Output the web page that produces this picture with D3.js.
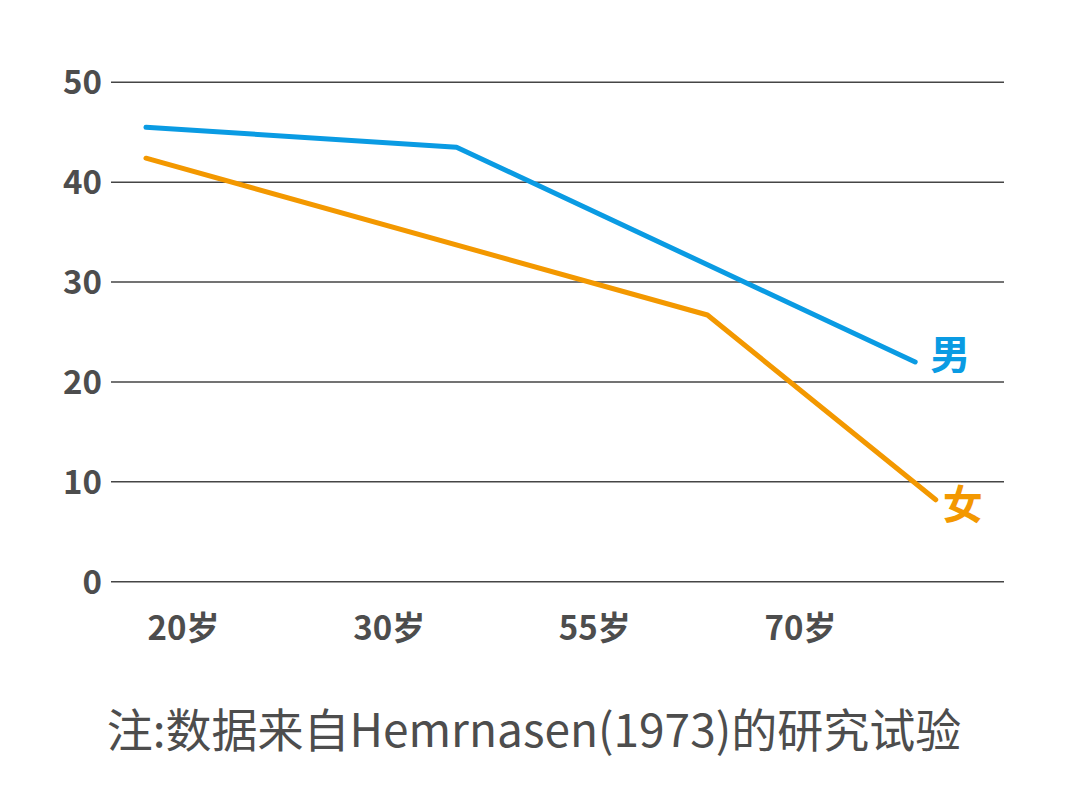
<!DOCTYPE html>
<html>
<head>
<meta charset="utf-8">
<script src="https://cdn.jsdelivr.net/npm/d3@7"></script>
<style>
  html, body { margin: 0; padding: 0; background: #fff; }
  svg { display: block; }
</style>
</head>
<body>
<svg id="chart" width="1066" height="800"></svg>
<script>
// ---- data ----
const categories = ["20岁", "30岁", "55岁", "70岁"];
const yTicks = [0, 10, 20, 30, 40, 50];
// positions along the category axis (category index units) and values
const maleX = [-0.18, 1.33, 3.56];
const maleY = [45.5, 43.5, 22];
const femaleX = [-0.18, 2.55, 3.66];
const femaleY = [42.4, 26.7, 8.2];
const seriesNames = ["男", "女"];
const note = "注:数据来自Hemrnasen(1973)的研究试验";

// ---- layout ----
const svg = d3.select("#chart");
const gridLeft = 111, gridRight = 1004;
const x = d3.scaleLinear().domain([0, categories.length - 1]).range([183, 800]);
const y = d3.scaleLinear().domain([0, 50]).range([581.7, 82.3]);
const font = "'Noto Sans CJK SC', 'Noto Sans', sans-serif";
const textColor = "#4d4d4d";
const blue = "#0a9be3";
const orange = "#f39800";

// gridlines
svg.append("g").selectAll("line").data(yTicks).join("line")
  .attr("x1", gridLeft).attr("x2", gridRight)
  .attr("y1", d => y(d)).attr("y2", d => y(d))
  .attr("stroke", "#454545").attr("stroke-width", 1.5);

// y axis labels
const yAxis = d3.axisLeft(y).tickValues(yTicks).tickSize(0).tickPadding(0);
const gy = svg.append("g").attr("transform", "translate(102,0)").call(yAxis);
gy.select(".domain").remove();
gy.selectAll("text")
  .attr("font-family", font).attr("font-weight", "bold")
  .attr("font-size", 33).attr("fill", textColor).attr("dy", "0.35em");

// x axis labels
const xAxis = d3.axisBottom(x).tickValues(d3.range(categories.length))
  .tickFormat(i => categories[i]).tickSize(0).tickPadding(0);
const gx = svg.append("g").attr("transform", "translate(0,640)").call(xAxis);
gx.select(".domain").remove();
gx.selectAll("text")
  .attr("font-family", font).attr("font-weight", "bold")
  .attr("font-size", 33).attr("fill", textColor).attr("dy", 0).attr("y", 0);

// lines
const line = d3.line().x(d => x(d[0])).y(d => y(d[1]));
const male = maleX.map((v, i) => [v, maleY[i]]);
const female = femaleX.map((v, i) => [v, femaleY[i]]);

svg.append("path").datum(male).attr("d", line)
  .attr("fill", "none").attr("stroke", blue).attr("stroke-width", 5)
  .attr("stroke-linecap", "round").attr("stroke-linejoin", "round");
svg.append("path").datum(female).attr("d", line)
  .attr("fill", "none").attr("stroke", orange).attr("stroke-width", 5)
  .attr("stroke-linecap", "round").attr("stroke-linejoin", "round");

// series labels
svg.append("text").text(seriesNames[0])
  .attr("x", x(maleX[2]) + 35).attr("y", y(maleY[2]) - 10)
  .attr("text-anchor", "middle").attr("dominant-baseline", "central")
  .attr("font-family", font).attr("font-weight", "bold").attr("font-size", 40)
  .attr("fill", blue);
svg.append("text").text(seriesNames[1])
  .attr("x", x(femaleX[2]) + 27).attr("y", y(femaleY[2]) + 2)
  .attr("text-anchor", "middle").attr("dominant-baseline", "central")
  .attr("font-family", font).attr("font-weight", "bold").attr("font-size", 40)
  .attr("fill", orange);

// note
svg.append("text").text(note)
  .attr("x", 534).attr("y", 747)
  .attr("text-anchor", "middle")
  .attr("font-family", font).attr("font-size", 46)
  .attr("fill", textColor);
</script>
</body>
</html>
